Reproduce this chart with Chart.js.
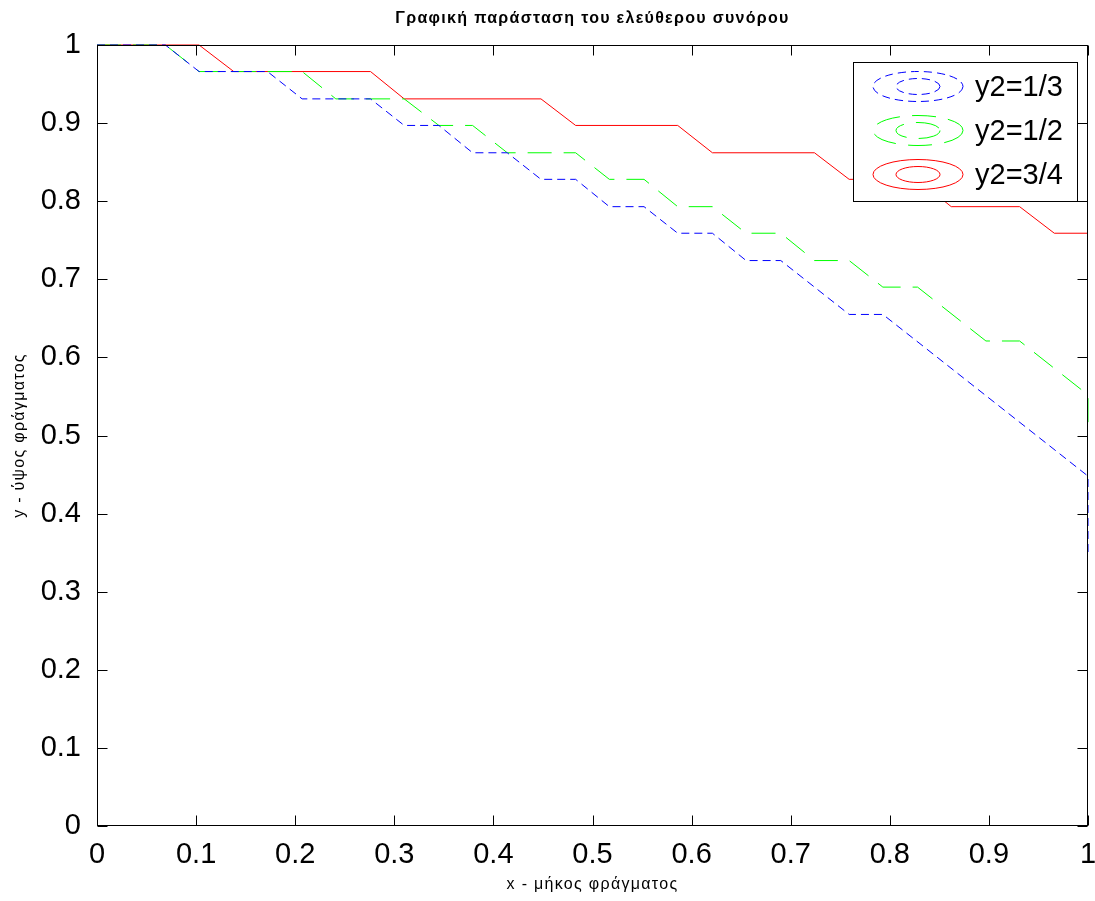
<!DOCTYPE html>
<html>
<head>
<meta charset="utf-8">
<script src="https://cdn.jsdelivr.net/npm/chart.js@4/dist/chart.umd.min.js"></script>
<style>
html, body { margin: 0; padding: 0; background: #fff; }
canvas { display: block; }
</style>
</head>
<body>
<canvas id="chart" width="1095" height="901"></canvas>
<script>
// tick labels
const xTicks = [0, 0.1, 0.2, 0.3, 0.4, 0.5, 0.6, 0.7, 0.8, 0.9, 1];
const yTicks = [0, 0.1, 0.2, 0.3, 0.4, 0.5, 0.6, 0.7, 0.8, 0.9, 1];

const seriesLabels = ['y2=1/3', 'y2=1/2', 'y2=3/4'];

// contour y2=1/3 (blue)
const blueX = [0, 0.069, 0.103, 0.172, 0.207, 0.276, 0.310, 0.345, 0.379, 0.414, 0.448,
  0.483, 0.517, 0.552, 0.586, 0.621, 0.655, 0.690, 0.759, 0.793, 1, 1];
const blueY = [1, 1, 0.966, 0.966, 0.931, 0.931, 0.897, 0.897, 0.862, 0.862, 0.828,
  0.828, 0.793, 0.793, 0.759, 0.759, 0.724, 0.724, 0.655, 0.655, 0.448, 0.345];

// contour y2=1/2 (green)
const greenX = [0, 0.069, 0.103, 0.207, 0.241, 0.310, 0.345, 0.379, 0.414, 0.483, 0.517, 0.552,
  0.586, 0.621, 0.655, 0.690, 0.724, 0.759, 0.793, 0.828, 0.897, 0.931, 1, 1];
const greenY = [1, 1, 0.966, 0.966, 0.931, 0.931, 0.897, 0.897, 0.862, 0.862, 0.828, 0.828,
  0.793, 0.793, 0.759, 0.759, 0.724, 0.724, 0.690, 0.690, 0.621, 0.621, 0.552, 0.517];

// contour y2=3/4 (red)
const redX = [0, 0.103, 0.138, 0.276, 0.310, 0.448, 0.483, 0.586, 0.621, 0.724, 0.759,
  0.828, 0.862, 0.931, 0.966, 1];
const redY = [1, 1, 0.966, 0.966, 0.931, 0.931, 0.897, 0.897, 0.862, 0.862, 0.828,
  0.828, 0.793, 0.793, 0.759, 0.759];

const toPoints = (xs, ys) => xs.map((x, i) => ({x: x, y: ys[i]}));

Chart.defaults.font.family = "'Liberation Sans', Arial, sans-serif";
Chart.defaults.color = '#000';

function lineSet(label, xs, ys, color, dash) {
  return {
    label: label,
    data: toPoints(xs, ys),
    showLine: true,
    borderColor: color,
    backgroundColor: color,
    borderWidth: 1,
    borderDash: dash,
    pointRadius: 0,
    tension: 0,
    clip: false
  };
}

// titles are drawn spaced out, tick labels (z:1, after datasets) are not
const spacing = {
  id: 'spacing',
  beforeDraw(chart) { chart.ctx.letterSpacing = '1.3px'; },
  beforeDatasetsDraw(chart) { chart.ctx.letterSpacing = '0px'; }
};

// box round the plot with inward ticks, like matlab
const framePlugin = {
  id: 'frame',
  afterDatasetsDraw(chart) {
    const {ctx, chartArea: a, scales} = chart;
    const L = Math.round(a.left) + 0.5, R = Math.round(a.right) - 0.5;
    const T = Math.round(a.top) + 0.5, B = Math.round(a.bottom) - 0.5;
    ctx.save();
    ctx.strokeStyle = '#000';
    ctx.lineWidth = 1;
    ctx.strokeRect(L, T, R - L, B - T);
    ctx.beginPath();
    xTicks.forEach(v => {
      const px = Math.round(scales.x.getPixelForValue(v)) + 0.5;
      ctx.moveTo(px, B); ctx.lineTo(px, B - 10);
      ctx.moveTo(px, T); ctx.lineTo(px, T + 10);
    });
    yTicks.forEach(v => {
      const py = Math.round(scales.y.getPixelForValue(v)) + 0.5;
      ctx.moveTo(L, py); ctx.lineTo(L + 10, py);
      ctx.moveTo(R, py); ctx.lineTo(R - 10, py);
    });
    ctx.stroke();
    ctx.restore();
  }
};

// legend with the little contour icons
const contourLegend = {
  id: 'contourLegend',
  afterDraw(chart) {
    const {ctx, chartArea: a} = chart;
    const bx = a.right - 234.5, by = a.top + 17.5, bw = 224, bh = 139;
    ctx.save();
    ctx.letterSpacing = '0px';
    ctx.fillStyle = '#fff';
    ctx.fillRect(bx, by, bw, bh);
    ctx.strokeStyle = '#000';
    ctx.lineWidth = 1;
    ctx.strokeRect(bx, by, bw, bh);
    chart.data.datasets.forEach((ds, i) => {
      const cy = by + 24 + i * 44;
      const cx = bx + 64.5;
      ctx.strokeStyle = ds.borderColor;
      ctx.setLineDash(ds.borderDash || []);
      ctx.beginPath();
      ctx.ellipse(cx, cy, 45, 15, 0, 0, Math.PI * 2);
      ctx.stroke();
      ctx.beginPath();
      ctx.ellipse(cx, cy, 22, 8, 0, 0, Math.PI * 2);
      ctx.stroke();
      ctx.setLineDash([]);
      ctx.fillStyle = '#000';
      ctx.font = "29px 'Liberation Sans', Arial, sans-serif";
      ctx.textAlign = 'left';
      ctx.textBaseline = 'middle';
      ctx.fillText(ds.label, bx + 121.5, cy + 1);
    });
    ctx.restore();
  }
};

const config = {
  type: 'scatter',
  data: {
    datasets: [
      lineSet(seriesLabels[0], blueX, blueY, '#0000ff', [8, 5]),
      lineSet(seriesLabels[1], greenX, greenY, '#00ff00', [24, 12]),
      lineSet(seriesLabels[2], redX, redY, '#ff0000', [])
    ]
  },
  options: {
    responsive: false,
    animation: false,
    events: [],
    layout: {autoPadding: false, padding: {top: 0, right: 7, bottom: 0, left: 0}},
    plugins: {
      legend: {display: false},
      tooltip: {enabled: false},
      title: {
        display: true,
        fullSize: false,
        text: 'Γραφική παράσταση του ελεύθερου συνόρου',
        font: {size: 16, weight: 'bold'},
        color: '#000',
        padding: {top: 8.9, bottom: 16.9}
      }
    },
    scales: {
      x: {
        type: 'linear',
        min: 0, max: 1,
        afterBuildTicks: s => { s.ticks = xTicks.map(v => ({value: v})); },
        afterFit: s => { s.height = 75; s.paddingLeft = 0; s.paddingRight = 0; },
        grid: {display: false, drawTicks: false},
        border: {display: false},
        ticks: {z: 1, font: {size: 29}, padding: 12, maxRotation: 0, autoSkip: false,
          callback: v => String(v)},
        title: {display: true, text: 'x - μήκος φράγματος', font: {size: 16}, padding: {top: 0, bottom: 7}}
      },
      y: {
        type: 'linear',
        min: 0, max: 1,
        afterBuildTicks: s => { s.ticks = yTicks.map(v => ({value: v})); },
        afterFit: s => { s.width = 97; s.paddingTop = 0; s.paddingBottom = 0; },
        grid: {display: false, drawTicks: false},
        border: {display: false},
        ticks: {z: 1, font: {size: 29}, padding: 16, autoSkip: false,
          callback: v => String(v)},
        title: {display: true, text: 'y - ύψος φράγματος', font: {size: 16}, padding: {top: 9.8, bottom: 0}}
      }
    }
  },
  plugins: [spacing, framePlugin, contourLegend]
};

document.addEventListener('DOMContentLoaded', () => {
  const ctx = document.getElementById('chart').getContext('2d');
  new Chart(ctx, config);
});
</script>
</body>
</html>
